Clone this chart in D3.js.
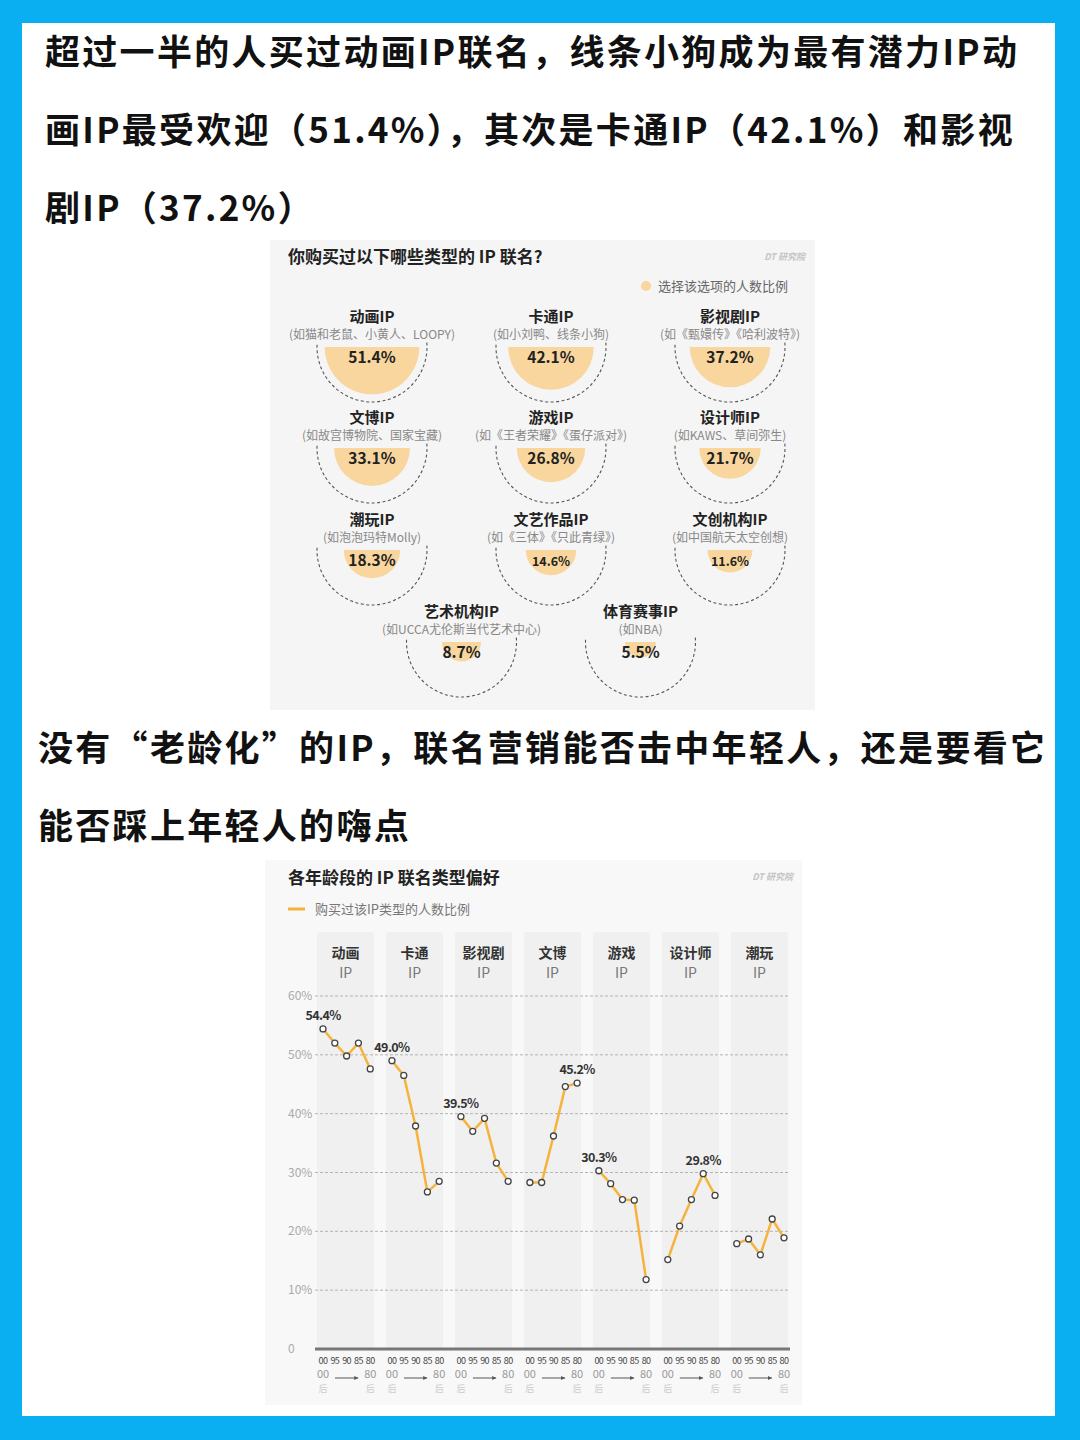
<!DOCTYPE html>
<html>
<head>
<meta charset="utf-8">
<script src="https://cdn.jsdelivr.net/npm/d3@7"></script>
<style>
  body { margin: 0; background: #0aaff2; }
  svg { display: block; font-family: "Noto Sans CJK SC", "Noto Sans", sans-serif; }
</style>
</head>
<body>
<svg id="page" width="1080" height="1440"></svg>
<script>
// ---- top chart data ----
let ipNames = ["动画IP", "卡通IP", "影视剧IP", "文博IP", "游戏IP", "设计师IP", "潮玩IP", "文艺作品IP", "文创机构IP", "艺术机构IP", "体育赛事IP"];
let ipExamples = ["(如猫和老鼠、小黄人、LOOPY)", "(如小刘鸭、线条小狗)", "(如《甄嬛传》《哈利波特》)", "(如故宫博物院、国家宝藏)", "(如《王者荣耀》《蛋仔派对》)", "(如KAWS、草间弥生)", "(如泡泡玛特Molly)", "(如《三体》《只此青绿》)", "(如中国航天太空创想)", "(如UCCA尤伦斯当代艺术中心)", "(如NBA)"];
let ipShares = [51.4, 42.1, 37.2, 33.1, 26.8, 21.7, 18.3, 14.6, 11.6, 8.7, 5.5];

// ---- bottom chart data ----
let ipTypes = ["动画", "卡通", "影视剧", "文博", "游戏", "设计师", "潮玩"];
let ageTicks = ["00", "95", "90", "85", "80"];
let animeShare = [54.4, 52.0, 49.8, 52.0, 47.6];
let cartoonShare = [49.0, 46.5, 37.9, 26.7, 28.5];
let filmShare = [39.5, 37.0, 39.2, 31.6, 28.5];
let museumShare = [28.3, 28.3, 36.2, 44.6, 45.2];
let gameShare = [30.3, 28.1, 25.4, 25.3, 11.8];
let designerShare = [15.2, 20.9, 25.4, 29.8, 26.1];
let toyShare = [17.9, 18.7, 16.0, 22.1, 18.9];
let showPeak = [true, true, true, true, true, true, false];
let yTicks = [0, 10, 20, 30, 40, 50, 60];

let orange = "#f6b33c";
let peach = "#f8d69e";

let svg = d3.select("#page");

// frame
svg.append("rect").attr("width", 1080).attr("height", 1440).attr("fill", "#0aaff2");
svg.append("rect").attr("x", 22).attr("y", 23).attr("width", 1033).attr("height", 1393).attr("fill", "#ffffff");

// headline paragraphs
let heading1 = ["超过一半的人买过动画IP联名，线条小狗成为最有潜力IP动", "画IP最受欢迎（51.4%），其次是卡通IP（42.1%）和影视", "剧IP（37.2%）"];
let heading2 = ["没有“老龄化”的IP，联名营销能否击中年轻人，还是要看它", "能否踩上年轻人的嗨点"];

heading1.forEach(function(t, i) {
    svg.append("text").text(t)
        .attr("x", 45).attr("y", 65 + i * 78)
        .attr("font-size", 35).attr("font-weight", 700)
        .attr("letter-spacing", 2.3).attr("fill", "#111");
});
heading2.forEach(function(t, i) {
    svg.append("text").text(t)
        .attr("x", 38).attr("y", 761 + i * 78)
        .attr("font-size", 35).attr("font-weight", 700)
        .attr("letter-spacing", 2.3).attr("fill", "#111");
});

drawShares();
drawAgeLines();

function drawShares() {
    let g = svg.append("g");
    g.append("rect").attr("x", 270).attr("y", 240).attr("width", 545).attr("height", 470).attr("fill", "#f5f5f5");

    g.append("text").text("你购买过以下哪些类型的 IP 联名?")
        .attr("x", 288).attr("y", 263)
        .attr("font-size", 17).attr("font-weight", 700).attr("fill", "#222");
    g.append("text").text("DT 研究院")
        .attr("x", 805).attr("y", 260).attr("text-anchor", "end")
        .attr("font-size", 9).attr("font-weight", 700).attr("font-style", "italic").attr("fill", "#c4c4c4");

    g.append("circle").attr("cx", 646).attr("cy", 286).attr("r", 5).attr("fill", peach);
    g.append("text").text("选择该选项的人数比例")
        .attr("x", 658).attr("y", 291)
        .attr("font-size", 13).attr("fill", "#666");

    let colX = d3.scaleLinear().domain([0, 2]).range([372, 730]);
    let rowY = d3.scaleLinear().domain([0, 1, 2, 3]).range([347, 448, 550, 642]);
    let rScale = d3.scaleSqrt().domain([0, 100]).range([0, 66]);

    let half = d3.arc().innerRadius(0).startAngle(Math.PI / 2).endAngle(3 * Math.PI / 2);

    ipNames.forEach(function(name, i) {
        let row = Math.floor(i / 3);
        let col = i % 3;
        let cx = row < 3 ? colX(col) : colX(col + 0.5);
        let cy = rowY(row);
        let v = ipShares[i];

        let cell = g.append("g").attr("transform", "translate(" + cx + "," + cy + ")");

        cell.append("path")
            .attr("d", half.outerRadius(rScale(v))())
            .attr("fill", peach);

        let p = d3.path();
        p.arc(0, 0, 55, -0.08, Math.PI + 0.08, false);
        cell.append("path")
            .attr("d", p.toString())
            .attr("fill", "none")
            .attr("stroke", "#555")
            .attr("stroke-width", 1.1)
            .attr("stroke-dasharray", "3,2.5");

        cell.append("text").text(name)
            .attr("y", -25).attr("text-anchor", "middle")
            .attr("font-size", 15).attr("font-weight", 700).attr("fill", "#222");
        cell.append("text").text(ipExamples[i])
            .attr("y", -8).attr("text-anchor", "middle")
            .attr("font-size", 12).attr("fill", "#888");
        cell.append("text").text(d3.format(".1f")(v) + "%")
            .attr("y", 16).attr("text-anchor", "middle")
            .attr("font-size", (v >= 10 && v < 16) ? 12.5 : 15.5)
            .attr("font-weight", 700).attr("fill", "#222");
    });
}

function drawAgeLines() {
    let g = svg.append("g");
    g.append("rect").attr("x", 265).attr("y", 860).attr("width", 537).attr("height", 545).attr("fill", "#f8f8f8");

    g.append("text").text("各年龄段的 IP 联名类型偏好")
        .attr("x", 288).attr("y", 884)
        .attr("font-size", 17).attr("font-weight", 700).attr("fill", "#222");
    g.append("text").text("DT 研究院")
        .attr("x", 793).attr("y", 880).attr("text-anchor", "end")
        .attr("font-size", 9).attr("font-weight", 700).attr("font-style", "italic").attr("fill", "#c4c4c4");

    g.append("line").attr("x1", 288).attr("x2", 305).attr("y1", 909).attr("y2", 909)
        .attr("stroke", orange).attr("stroke-width", 3);
    g.append("text").text("购买过该IP类型的人数比例")
        .attr("x", 315).attr("y", 914)
        .attr("font-size", 13).attr("fill", "#777");

    let series = [animeShare, cartoonShare, filmShare, museumShare, gameShare, designerShare, toyShare];

    let xBand = d3.scaleBand().domain(ipTypes).range([317, 788]).paddingInner(0.17).paddingOuter(0);
    let xAge = d3.scalePoint().domain(ageTicks).range([6, xBand.bandwidth() - 4]);
    let y = d3.scaleLinear().domain([0, 60]).range([1349, 996]);

    // column bands and headers
    ipTypes.forEach(function(t) {
        g.append("rect")
            .attr("x", xBand(t)).attr("y", 932)
            .attr("width", xBand.bandwidth()).attr("height", y(0) - 932)
            .attr("rx", 3)
            .attr("fill", "#f0f0f0");
        g.append("text").text(t)
            .attr("x", xBand(t) + xBand.bandwidth() / 2).attr("y", 958)
            .attr("text-anchor", "middle")
            .attr("font-size", 14).attr("font-weight", 700).attr("fill", "#333");
        g.append("text").text("IP")
            .attr("x", xBand(t) + xBand.bandwidth() / 2).attr("y", 978)
            .attr("text-anchor", "middle")
            .attr("font-size", 14).attr("fill", "#777");
    });

    // grid
    yTicks.forEach(function(t) {
        if (t > 0) {
            g.append("line")
                .attr("x1", 315).attr("x2", 790)
                .attr("y1", y(t)).attr("y2", y(t))
                .attr("stroke", "#b3b3b3").attr("stroke-width", 1)
                .attr("stroke-dasharray", "3,2");
        }
        g.append("text").text(t === 0 ? "0" : t + "%")
            .attr("x", 288).attr("y", y(t) + 4)
            .attr("font-size", 12).attr("fill", "#aaa");
    });

    g.append("line")
        .attr("x1", 315).attr("x2", 790)
        .attr("y1", y(0)).attr("y2", y(0))
        .attr("stroke", "#777").attr("stroke-width", 3);

    // x ticks
    ipTypes.forEach(function(t) {
        let x0 = xBand(t);
        ageTicks.forEach(function(a) {
            g.append("text").text(a)
                .attr("x", x0 + xAge(a)).attr("y", 1364)
                .attr("text-anchor", "middle")
                .attr("font-size", 9).attr("letter-spacing", -0.6).attr("fill", "#444");
        });
        let first = x0 + xAge(ageTicks[0]);
        let last = x0 + xAge(ageTicks[ageTicks.length - 1]);
        [[first, "00"], [last, "80"]].forEach(function(d) {
            g.append("text").text(d[1])
                .attr("x", d[0]).attr("y", 1378)
                .attr("text-anchor", "middle")
                .attr("font-size", 11).attr("fill", "#999");
            g.append("text").text("后")
                .attr("x", d[0]).attr("y", 1392)
                .attr("text-anchor", "middle")
                .attr("font-size", 9).attr("fill", "#ccc");
        });
        g.append("line")
            .attr("x1", first + 12).attr("x2", last - 12)
            .attr("y1", 1378).attr("y2", 1378)
            .attr("stroke", "#555").attr("stroke-width", 1);
        g.append("path")
            .attr("d", "M" + (last - 12) + ",1378 l-4,-2 l0,4 z")
            .attr("fill", "#555");
    });

    // lines and points
    series.forEach(function(values, i) {
        let t = ipTypes[i];
        let x0 = xBand(t);
        let pts = values.map(function(v, j) { return { x: x0 + xAge(ageTicks[j]), v: v }; });

        let line = d3.line().x(d => d.x).y(d => y(d.v));
        g.append("path")
            .datum(pts)
            .attr("d", line)
            .attr("fill", "none")
            .attr("stroke", orange)
            .attr("stroke-width", 2.5)
            .attr("stroke-linejoin", "round");

        g.selectAll(".pt-" + i).data(pts).enter()
            .append("circle")
            .attr("class", "pt-" + i)
            .attr("cx", d => d.x)
            .attr("cy", d => y(d.v))
            .attr("r", 3)
            .attr("fill", "#fff")
            .attr("stroke", "#444")
            .attr("stroke-width", 1.3);

        if (showPeak[i]) {
            let peak = pts[d3.maxIndex(pts, d => d.v)];
            g.append("text").text(d3.format(".1f")(peak.v) + "%")
                .attr("x", peak.x).attr("y", y(peak.v) - 9)
                .attr("text-anchor", "middle")
                .attr("font-size", 12.5).attr("font-weight", 600)
                .attr("letter-spacing", -0.6).attr("fill", "#333");
        }
    });
}
</script>
</body>
</html>
